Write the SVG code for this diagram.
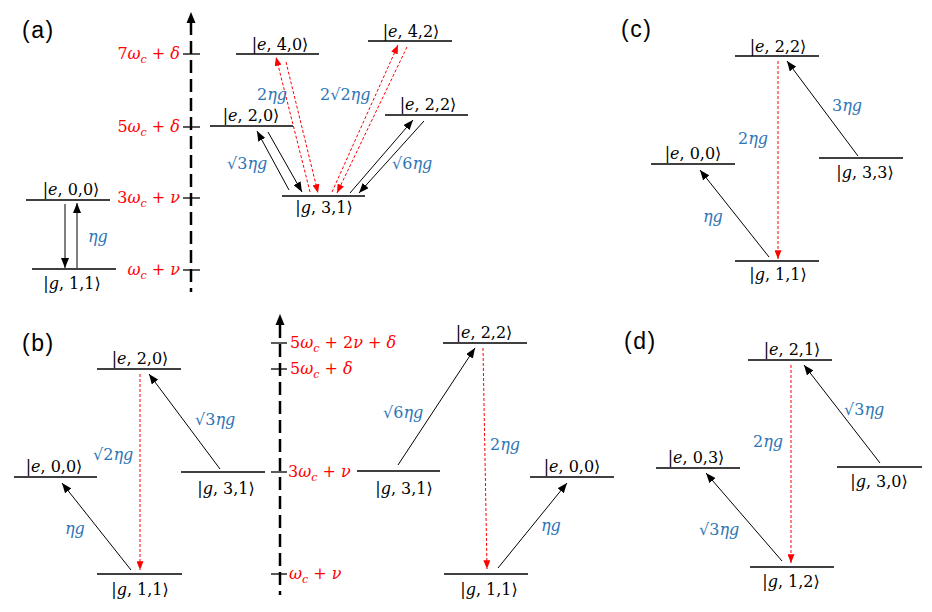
<svg xmlns="http://www.w3.org/2000/svg" width="932" height="612" viewBox="0 0 932 612">
<style>
.bg{fill:#fff}
.lvl{stroke:#000;stroke-width:1.3}
.k{font-family:"DejaVu Serif","Liberation Serif",serif;font-size:16px;fill:#000;text-anchor:middle}
.i{font-style:italic}
.b{font-family:"DejaVu Serif","Liberation Serif",serif;font-size:16px;fill:#2E75B6}
.r{font-family:"DejaVu Serif","Liberation Serif",serif;font-size:16px;fill:#FF0000}
.re{text-anchor:end}
.s{font-size:11px;font-style:italic}
.p{font-family:"Liberation Sans",Arial,sans-serif;font-size:23px;letter-spacing:1.5px;fill:#000}
.ax{stroke:#000;stroke-width:2.5;stroke-dasharray:13 6;fill:none}
.tk{stroke:#000;stroke-width:1.3}
.ab{stroke:#000;stroke-width:1;fill:none;marker-end:url(#mb)}
.ar{stroke:#f00;stroke-width:1;stroke-dasharray:3 2;fill:none;marker-end:url(#mr)}
</style>
<defs>
<marker id="mb" markerUnits="userSpaceOnUse" viewBox="0 0 10 8" markerWidth="10" markerHeight="8" refX="10" refY="4" orient="auto"><path d="M0,0 L10,4 L0,8 z" fill="#000"/></marker>
<marker id="mr" markerUnits="userSpaceOnUse" viewBox="0 0 10 8" markerWidth="9" markerHeight="7" refX="10" refY="4" orient="auto"><path d="M0,0 L10,4 L0,8 z" fill="#f00"/></marker>
</defs>
<rect class="bg" x="0" y="0" width="932" height="612"/>

<!-- panel labels -->
<text class="p" x="22" y="38">(a)</text>
<text class="p" x="22" y="351">(b)</text>
<text class="p" x="621" y="37">(c)</text>
<text class="p" x="624" y="349">(d)</text>

<!-- axis (a) -->
<g id="axis-a">
<line class="ax" x1="191" y1="22" x2="191" y2="292"/>
<polygon points="191,12 186.5,23 195.5,23" fill="#000"/>
<line class="tk" x1="183" y1="54" x2="200" y2="54"/>
<line class="tk" x1="183" y1="127" x2="200" y2="127"/>
<line class="tk" x1="183" y1="198" x2="200" y2="198"/>
<line class="tk" x1="183" y1="270" x2="200" y2="270"/>
<text class="r re" x="180" y="59">7<tspan class="i">ω</tspan><tspan class="s" dy="4">c</tspan><tspan dy="-4"> + </tspan><tspan class="i">δ</tspan></text>
<text class="r re" x="180" y="132">5<tspan class="i">ω</tspan><tspan class="s" dy="4">c</tspan><tspan dy="-4"> + </tspan><tspan class="i">δ</tspan></text>
<text class="r re" x="180" y="203">3<tspan class="i">ω</tspan><tspan class="s" dy="4">c</tspan><tspan dy="-4"> + </tspan><tspan class="i">ν</tspan></text>
<text class="r re" x="180" y="275"><tspan class="i">ω</tspan><tspan class="s" dy="4">c</tspan><tspan dy="-4"> + </tspan><tspan class="i">ν</tspan></text>
</g>

<!-- axis (b) -->
<g id="axis-b">
<line class="ax" x1="280" y1="325" x2="280" y2="595"/>
<polygon points="280,314 275.5,325 284.5,325" fill="#000"/>
<line class="tk" x1="271" y1="343" x2="287" y2="343"/>
<line class="tk" x1="271" y1="369" x2="287" y2="369"/>
<line class="tk" x1="271" y1="472" x2="287" y2="472"/>
<line class="tk" x1="271" y1="574" x2="287" y2="574"/>
<text class="r" x="290" y="348">5<tspan class="i">ω</tspan><tspan class="s" dy="4">c</tspan><tspan dy="-4"> + 2</tspan><tspan class="i">ν</tspan><tspan> + </tspan><tspan class="i">δ</tspan></text>
<text class="r" x="290" y="374">5<tspan class="i">ω</tspan><tspan class="s" dy="4">c</tspan><tspan dy="-4"> + </tspan><tspan class="i">δ</tspan></text>
<text class="r" x="288" y="477">3<tspan class="i">ω</tspan><tspan class="s" dy="4">c</tspan><tspan dy="-4"> + </tspan><tspan class="i">ν</tspan></text>
<text class="r" x="289" y="579"><tspan class="i">ω</tspan><tspan class="s" dy="4">c</tspan><tspan dy="-4"> + </tspan><tspan class="i">ν</tspan></text>
</g>

<!-- panel (a) nodes -->
<g id="a-e00"><line class="lvl" x1="26" y1="200" x2="110" y2="200"/><text class="k" x="71" y="195">|<tspan class="i">e</tspan>, 0,0⟩</text></g>
<g id="a-g11"><line class="lvl" x1="32" y1="269" x2="116" y2="269"/><text class="k" x="72" y="289">|<tspan class="i">g</tspan>, 1,1⟩</text></g>
<g id="a-e40"><line class="lvl" x1="236" y1="54" x2="319" y2="54"/><text class="k" x="280" y="50">|<tspan class="i">e</tspan>, 4,0⟩</text></g>
<g id="a-e42"><line class="lvl" x1="368" y1="41" x2="452" y2="41"/><text class="k" x="411" y="37">|<tspan class="i">e</tspan>, 4,2⟩</text></g>
<g id="a-e20"><line class="lvl" x1="210" y1="126" x2="293" y2="126"/><text class="k" x="251" y="121">|<tspan class="i">e</tspan>, 2,0⟩</text></g>
<g id="a-e22"><line class="lvl" x1="385" y1="115" x2="468" y2="115"/><text class="k" x="428" y="110">|<tspan class="i">e</tspan>, 2,2⟩</text></g>
<g id="a-g31"><line class="lvl" x1="282" y1="196" x2="365" y2="196"/><text class="k" x="324" y="213">|<tspan class="i">g</tspan>, 3,1⟩</text></g>

<!-- panel (b) nodes -->
<g id="b-e20"><line class="lvl" x1="97" y1="369" x2="181" y2="369"/><text class="k" x="140" y="364">|<tspan class="i">e</tspan>, 2,0⟩</text></g>
<g id="b-e00l"><line class="lvl" x1="14" y1="477" x2="97" y2="477"/><text class="k" x="54" y="472">|<tspan class="i">e</tspan>, 0,0⟩</text></g>
<g id="b-g31l"><line class="lvl" x1="181" y1="472" x2="265" y2="472"/><text class="k" x="226" y="494">|<tspan class="i">g</tspan>, 3,1⟩</text></g>
<g id="b-g11l"><line class="lvl" x1="97" y1="574" x2="182" y2="574"/><text class="k" x="140" y="595">|<tspan class="i">g</tspan>, 1,1⟩</text></g>
<g id="b-g31r"><line class="lvl" x1="357" y1="471" x2="440" y2="471"/><text class="k" x="404" y="494">|<tspan class="i">g</tspan>, 3,1⟩</text></g>
<g id="b-e22"><line class="lvl" x1="443" y1="343" x2="527" y2="343"/><text class="k" x="484" y="338">|<tspan class="i">e</tspan>, 2,2⟩</text></g>
<g id="b-e00r"><line class="lvl" x1="530" y1="477" x2="614" y2="477"/><text class="k" x="572" y="472">|<tspan class="i">e</tspan>, 0,0⟩</text></g>
<g id="b-g11r"><line class="lvl" x1="444" y1="574" x2="528" y2="574"/><text class="k" x="489" y="595">|<tspan class="i">g</tspan>, 1,1⟩</text></g>

<!-- panel (c) nodes -->
<g id="c-e22"><line class="lvl" x1="735" y1="56" x2="819" y2="56"/><text class="k" x="778" y="52">|<tspan class="i">e</tspan>, 2,2⟩</text></g>
<g id="c-e00"><line class="lvl" x1="651" y1="164" x2="735" y2="164"/><text class="k" x="693" y="159">|<tspan class="i">e</tspan>, 0,0⟩</text></g>
<g id="c-g33"><line class="lvl" x1="819" y1="158" x2="903" y2="158"/><text class="k" x="865" y="178">|<tspan class="i">g</tspan>, 3,3⟩</text></g>
<g id="c-g11"><line class="lvl" x1="735" y1="261" x2="819" y2="261"/><text class="k" x="778" y="280">|<tspan class="i">g</tspan>, 1,1⟩</text></g>

<!-- panel (d) nodes -->
<g id="d-e21"><line class="lvl" x1="748" y1="360" x2="832" y2="360"/><text class="k" x="792" y="355">|<tspan class="i">e</tspan>, 2,1⟩</text></g>
<g id="d-e03"><line class="lvl" x1="656" y1="468" x2="740" y2="468"/><text class="k" x="696" y="463">|<tspan class="i">e</tspan>, 0,3⟩</text></g>
<g id="d-g30"><line class="lvl" x1="837" y1="467" x2="922" y2="467"/><text class="k" x="879" y="487">|<tspan class="i">g</tspan>, 3,0⟩</text></g>
<g id="d-g12"><line class="lvl" x1="750" y1="567" x2="834" y2="567"/><text class="k" x="791" y="587">|<tspan class="i">g</tspan>, 1,2⟩</text></g>

<!-- connectors -->
<g id="connectors">
<!-- (a) -->
<line class="ab" x1="65" y1="204" x2="65" y2="268"/>
<line class="ab" x1="77" y1="268" x2="77" y2="203"/>
<line class="ab" x1="289" y1="190" x2="257" y2="131"/>
<line class="ab" x1="268" y1="132" x2="302" y2="192"/>
<line class="ar" x1="310" y1="192" x2="276" y2="57"/>
<line class="ar" x1="286" y1="62" x2="318" y2="193"/>
<line class="ar" x1="332" y1="192" x2="398" y2="45"/>
<line class="ar" x1="407" y1="47" x2="337" y2="193"/>
<line class="ab" x1="350" y1="193" x2="413" y2="120"/>
<line class="ab" x1="424" y1="121" x2="359" y2="193"/>
<!-- (b) -->
<line class="ar" x1="140" y1="374" x2="140" y2="570"/>
<line class="ab" x1="131" y1="570" x2="62" y2="483"/>
<line class="ab" x1="220" y1="469" x2="149" y2="374"/>
<line class="ab" x1="398" y1="465" x2="475" y2="348"/>
<line class="ar" x1="483" y1="348" x2="487" y2="569"/>
<line class="ab" x1="498" y1="568" x2="567" y2="483"/>
<!-- (c) -->
<line class="ar" x1="778" y1="61" x2="778" y2="259"/>
<line class="ab" x1="769" y1="257" x2="700" y2="170"/>
<line class="ab" x1="858" y1="156" x2="787" y2="61"/>
<!-- (d) -->
<line class="ar" x1="791" y1="365" x2="791" y2="563"/>
<line class="ab" x1="782" y1="561" x2="706" y2="473"/>
<line class="ab" x1="880" y1="463" x2="804" y2="365"/>
</g>

<!-- coupling labels -->
<g id="coupling-labels">
<text class="b" x="88" y="242"><tspan class="i">η</tspan><tspan class="i">g</tspan></text>
<text class="b" x="257" y="100">2<tspan class="i">ηg</tspan></text>
<text class="b" x="227" y="169">√3<tspan class="i">ηg</tspan></text>
<text class="b" x="320" y="100">2√2<tspan class="i">ηg</tspan></text>
<text class="b" x="392" y="169">√6<tspan class="i">ηg</tspan></text>

<text class="b" x="93" y="460">√2<tspan class="i">ηg</tspan></text>
<text class="b" x="65" y="534"><tspan class="i">ηg</tspan></text>
<text class="b" x="195" y="425">√3<tspan class="i">ηg</tspan></text>
<text class="b" x="383" y="418">√6<tspan class="i">ηg</tspan></text>
<text class="b" x="490" y="450">2<tspan class="i">ηg</tspan></text>
<text class="b" x="541" y="531"><tspan class="i">ηg</tspan></text>

<text class="b" x="738" y="144">2<tspan class="i">ηg</tspan></text>
<text class="b" x="703" y="222"><tspan class="i">ηg</tspan></text>
<text class="b" x="832" y="111">3<tspan class="i">ηg</tspan></text>

<text class="b" x="753" y="447">2<tspan class="i">ηg</tspan></text>
<text class="b" x="699" y="535">√3<tspan class="i">ηg</tspan></text>
<text class="b" x="844" y="415">√3<tspan class="i">ηg</tspan></text>
</g>
</svg>
